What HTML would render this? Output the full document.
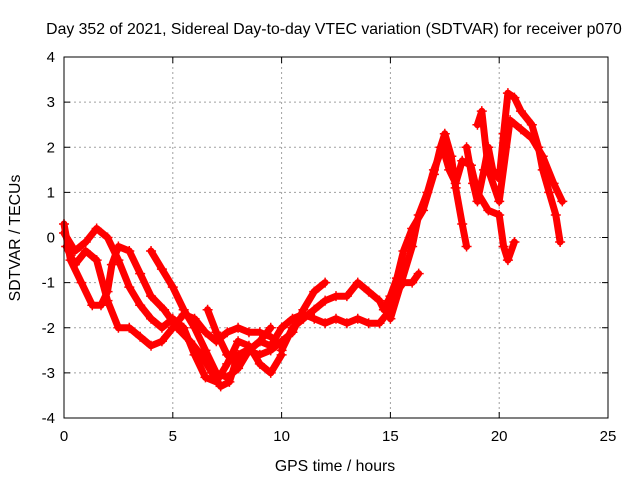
<!DOCTYPE html>
<html><head><meta charset="utf-8"><style>
body{margin:0;background:#fff}
svg{display:block;font-family:"Liberation Sans",sans-serif}
</style></head><body>
<svg id="chart" width="640" height="480" viewBox="0 0 640 480" xmlns="http://www.w3.org/2000/svg">
<rect width="640" height="480" fill="#fff"/>
<text x="334" y="34" font-size="15.8" text-anchor="middle">Day 352 of 2021, Sidereal Day-to-day VTEC variation (SDTVAR) for receiver p070</text>
<text x="335" y="471" font-size="15.8" text-anchor="middle">GPS time / hours</text>
<text transform="translate(20,238) rotate(-90)" font-size="15.8" text-anchor="middle">SDTVAR / TECUs</text>
<g id="grid"></g>
<g id="ticks"></g>
<g id="series"></g>
<rect x="64" y="57" width="544" height="361" fill="none" stroke="#000" stroke-width="1"/>
</svg>
<script>
const xTicks=[0,5,10,15,20,25];
const yTicks=[-4,-3,-2,-1,0,1,2,3,4];
const trackA=[[0,0.3],[0.3,-0.5],[0.8,-1.0],[1.3,-1.5],[1.7,-1.5],[2.0,-1.2],[2.2,-0.6],[2.5,-0.2],[3,-0.3],[3.5,-0.8],[4,-1.3],[4.6,-1.6],[5.2,-2.0],[5.8,-2.3],[6.3,-2.6],[6.8,-3.0],[7.2,-3.3],[7.6,-3.2],[8,-2.6],[8.4,-2.5],[9,-2.6],[9.5,-2.5],[10,-2.3],[10.5,-2.1],[11,-1.6],[11.5,-1.2],[12,-1.0]];
const trackB=[[0,0.1],[0.5,-0.3],[1,-0.1],[1.5,0.2],[2,0],[2.5,-0.5],[3,-1.1],[3.5,-1.5],[4,-1.8],[4.5,-2.0],[5,-1.8],[5.5,-2.0],[6,-2.6],[6.5,-3.1],[7,-3.2],[7.5,-2.8],[8,-2.3],[8.5,-2.4],[9,-2.8],[9.5,-3.0],[10,-2.6]];
const trackC=[[0.1,-0.2],[0.5,-0.6],[1,-0.3],[1.5,-0.5],[2,-1.4],[2.5,-2.0],[3,-2.0],[3.5,-2.2],[4,-2.4],[4.5,-2.3],[5,-2.0],[5.5,-1.7],[6,-1.8],[6.5,-2.1],[7,-2.3],[7.5,-2.1],[8,-2.0],[8.5,-2.1],[9,-2.1],[9.5,-2.2]];
const trackE=[[4,-0.3],[4.5,-0.7],[5,-1.1],[5.5,-1.6],[6,-2.0],[6.5,-2.5],[7,-3.0],[7.5,-3.1],[8,-2.9],[8.5,-2.5],[9,-2.3],[9.5,-2.0]];
const trackF=[[6.6,-1.6],[7,-2.1],[7.5,-2.6],[8,-2.8],[8.5,-2.5],[9,-2.3],[9.5,-2.4],[10,-2.0],[10.5,-1.8],[11,-1.7],[11.5,-1.8],[12,-1.9],[12.5,-1.8],[13,-1.9],[13.5,-1.8],[14,-1.9],[14.5,-1.9],[15,-1.6],[15.3,-1.2],[15.6,-1.0],[16,-1.0],[16.3,-0.8]];
const trackG=[[10,-2.5],[10.5,-2.0],[11,-1.8],[11.5,-1.6],[12,-1.4],[12.5,-1.3],[13,-1.3],[13.5,-1.0],[14,-1.2],[14.5,-1.4],[14.7,-1.6],[15,-1.3],[15.3,-0.9],[15.6,-0.3],[16,0.2],[16.5,0.6],[17,1.4],[17.3,2.0],[17.5,2.3],[17.8,1.8],[18,1.1],[18.3,0.3],[18.5,-0.2]];
const trackI=[[15,-1.8],[15.5,-1.0],[16,-0.2],[16.3,0.5],[16.7,1.0],[17,1.5],[17.4,2.0],[17.7,1.5],[18,1.2],[18.3,1.7],[18.7,1.6],[19,1.0],[19.5,0.6],[20,0.5],[20.2,-0.2],[20.4,-0.5],[20.7,-0.1]];
const trackJ=[[18.5,2.0],[18.8,1.2],[19,0.8],[19.3,1.5],[19.5,2.0],[19.7,1.5],[20,1.3],[20.2,2.3],[20.4,3.2],[20.7,3.1],[21,2.8],[21.5,2.5],[21.8,2.0],[22,1.5],[22.3,1.0],[22.6,0.5],[22.8,-0.1]];
const trackK=[[19,2.5],[19.2,2.8],[19.5,1.5],[20,0.8],[20.5,2.6],[21,2.4],[21.5,2.2],[22,1.8],[22.5,1.2],[22.9,0.8]];
const tracks=[trackA,trackB,trackC,trackE,trackF,trackG,trackI,trackJ,trackK];

const X0=64,X1=608,Y0=418,Y1=57;
const xs=v=>X0+(v-0)/(25-0)*(X1-X0);
const ys=v=>Y0-(v+4)/8*(Y0-Y1);
const NS='http://www.w3.org/2000/svg';
const grid=document.getElementById('grid'),ticks=document.getElementById('ticks'),ser=document.getElementById('series');
function mk(tag,attrs,parent){const e=document.createElementNS(NS,tag);for(const k in attrs)e.setAttribute(k,attrs[k]);parent.appendChild(e);return e;}
xTicks.forEach(t=>{
  const x=xs(t);
  if(t>0&&t<25){const g=mk('line',{x1:x,x2:x,y1:Y1,y2:Y0,stroke:'#a0a0a0','stroke-dasharray':'2,3'},grid);
  
  }
  mk('line',{x1:x,x2:x,y1:Y0,y2:Y0-6,stroke:'#000'},ticks);
  mk('line',{x1:x,x2:x,y1:Y1,y2:Y1+6,stroke:'#000'},ticks);
  const tx=mk('text',{x:x,y:Y0+23,'font-size':15,'text-anchor':'middle'},ticks);
  tx.textContent=t;
  
  
});
yTicks.forEach(t=>{
  const y=ys(t);
  if(t>-4&&t<4){const g=mk('line',{x1:X0,x2:X1,y1:y,y2:y,stroke:'#a0a0a0','stroke-dasharray':'2,3'},grid);
  
  }
  mk('line',{x1:X0,x2:X0+6,y1:y,y2:y,stroke:'#000'},ticks);
  mk('line',{x1:X1,x2:X1-6,y1:y,y2:y,stroke:'#000'},ticks);
  const tx=mk('text',{x:X0-9,y:y+5,'font-size':15,'text-anchor':'end'},ticks);
  tx.textContent=t;
  
  
});
tracks.forEach((tr,i)=>{
  const d=tr.map((p,j)=>(j?'L':'M')+xs(p[0]).toFixed(1)+','+ys(p[1]).toFixed(1)).join(' ');
  const pl=mk('path',{d:d,fill:'none',stroke:'#ff0000','stroke-width':7,'stroke-linejoin':'round','stroke-linecap':'round'},ser);
  
  
  tr.forEach(p=>{
    const x=xs(p[0]),y=ys(p[1]);
    const m=mk('path',{d:`M${x-5},${y}H${x+5}M${x},${y-5}V${y+5}`,stroke:'#ff0000','stroke-width':1.5},ser);
    
    
  });
});
</script>
</body></html>
